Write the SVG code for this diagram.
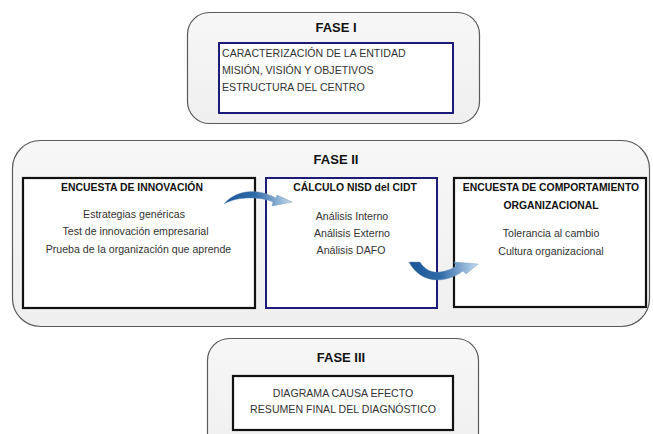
<svg xmlns="http://www.w3.org/2000/svg" width="653" height="434" viewBox="0 0 653 434">
<defs>
<linearGradient id="panel" x1="0" y1="0" x2="0" y2="1">
<stop offset="0" stop-color="#f7f7f7"/>
<stop offset="1" stop-color="#efefef"/>
</linearGradient>
<linearGradient id="arr" x1="0" y1="0" x2="1" y2="0">
<stop offset="0" stop-color="#1a5496"/>
<stop offset="0.45" stop-color="#2e6aa8"/>
<stop offset="1" stop-color="#c4dbf0"/>
</linearGradient>
<style>
.panel{fill:url(#panel);stroke:#5a5a5a;stroke-width:1.2}
.bk{fill:#fff;stroke:#111;stroke-width:2.2}
.nv{fill:#fff;stroke:#1c1c78;stroke-width:2}
.ph{font-family:"Liberation Sans",Arial,sans-serif;font-weight:bold;font-size:13px;fill:#111;text-anchor:middle}
.tt{font-family:"Liberation Sans",Arial,sans-serif;font-weight:bold;font-size:10.4px;fill:#111;text-anchor:middle}
.tx{font-family:"Liberation Sans",Arial,sans-serif;font-size:10.6px;fill:#333}
.c{text-anchor:middle}
.arrow{fill:url(#arr);stroke:#6d8fb5;stroke-width:0.4}
</style>
</defs>
<rect width="653" height="434" fill="#fff"/>

<g id="fase1">
<rect class="panel" x="187.5" y="12.5" width="292" height="111" rx="22"/>
<text class="ph" x="336" y="32">FASE I</text>
<rect class="nv" x="219" y="43" width="234" height="70"/>
<text class="tx" x="222" y="57">CARACTERIZACIÓN DE LA ENTIDAD</text>
<text class="tx" x="222" y="74">MISIÓN, VISIÓN Y OBJETIVOS</text>
<text class="tx" x="222" y="91">ESTRUCTURA DEL CENTRO</text>
</g>

<g id="fase2">
<rect class="panel" x="12.5" y="140.5" width="637" height="186" rx="28"/>
<text class="ph" x="336" y="164">FASE II</text>
</g>

<g id="encuesta-innovacion">
<rect class="bk" x="23" y="178" width="232" height="130"/>
<text class="tt" x="132" y="191">ENCUESTA DE INNOVACIÓN</text>
<text class="tx c" x="134" y="218">Estrategias genéricas</text>
<text class="tx c" x="135.5" y="235">Test de innovación empresarial</text>
<text class="tx c" x="138.5" y="253">Prueba de la organización que aprende</text>
</g>

<g id="calculo-nisd">
<rect class="nv" x="266" y="178" width="171" height="130"/>
<text class="tt" x="355" y="191">CÁLCULO NISD del CIDT</text>
<text class="tx c" x="352" y="220">Análisis Interno</text>
<text class="tx c" x="352" y="237">Análisis Externo</text>
<text class="tx c" x="351" y="254">Análisis DAFO</text>
</g>

<g id="encuesta-comportamiento">
<rect class="bk" x="454" y="178" width="192" height="129"/>
<text class="tt" x="551" y="191">ENCUESTA DE COMPORTAMIENTO</text>
<text class="tt" x="551" y="209">ORGANIZACIONAL</text>
<text class="tx c" x="551" y="237">Tolerancia al cambio</text>
<text class="tx c" x="551" y="255">Cultura organizacional</text>
</g>

<g id="connectors">
<path class="arrow" d="M 224,204 C 232,194 246,190 258,192 C 266,193 272,196 276,198 L 277,195 L 292,202 L 272,206 L 273,202 C 266,199 258,198 250,198 C 240,198 231,200 224,204 Z"/>
<path class="arrow" d="M 409,262 L 420,262 C 425,270 432,273 440,272 C 447,271 452,269 456,266 L 454,262 L 478,264 L 466,274 L 463,271 C 455,277 446,280 437,280 C 424,280 414,272 409,262 Z"/>
</g>

<g id="fase3">
<rect class="panel" x="207.5" y="338.5" width="271" height="120" rx="22"/>
<text class="ph" x="341" y="362">FASE III</text>
<rect class="bk" x="233" y="376" width="220" height="54"/>
<text class="tx c" x="343" y="397">DIAGRAMA CAUSA EFECTO</text>
<text class="tx c" x="343" y="413">RESUMEN FINAL DEL DIAGNÓSTICO</text>
</g>
</svg>
